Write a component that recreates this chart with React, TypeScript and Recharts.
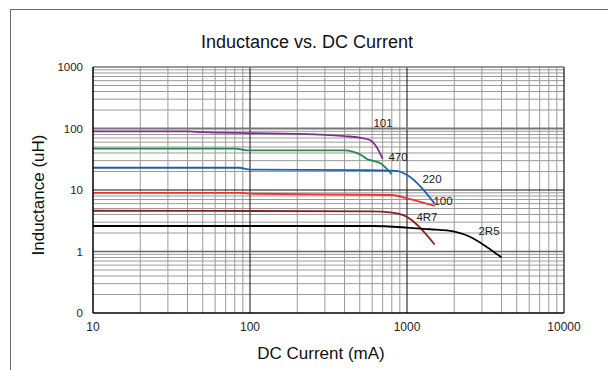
import { LineChart, Line, XAxis, YAxis, ReferenceLine, ReferenceDot } from 'recharts';

// DC current (mA) vs inductance (uH)
const s101 = [
  { x: 10, y: 90 }, { x: 40, y: 90 }, { x: 50, y: 87 }, { x: 100, y: 84 }, { x: 200, y: 82 },
  { x: 300, y: 79 }, { x: 400, y: 75 }, { x: 500, y: 71 }, { x: 580, y: 65 }, { x: 640, y: 50 }, { x: 700, y: 32 },
];
const s470 = [
  { x: 10, y: 47 }, { x: 80, y: 47 }, { x: 100, y: 44 }, { x: 400, y: 44 }, { x: 450, y: 42 },
  { x: 520, y: 36 }, { x: 555, y: 32 }, { x: 600, y: 30 }, { x: 680, y: 27 }, { x: 800, y: 18 },
];
const s220 = [
  { x: 10, y: 23 }, { x: 85, y: 23 }, { x: 100, y: 21.5 }, { x: 500, y: 21 }, { x: 850, y: 20.5 },
  { x: 1000, y: 17.5 }, { x: 1500, y: 6 },
];
const s100 = [
  { x: 10, y: 9 }, { x: 90, y: 9 }, { x: 100, y: 8.7 }, { x: 800, y: 8.3 }, { x: 1000, y: 7.3 }, { x: 1500, y: 5.5 },
];
const s4R7 = [
  { x: 10, y: 4.6 }, { x: 600, y: 4.5 }, { x: 800, y: 4.3 }, { x: 970, y: 3.8 }, { x: 1500, y: 1.3 },
];
const s2R5 = [
  { x: 10, y: 2.6 }, { x: 600, y: 2.6 }, { x: 1000, y: 2.45 }, { x: 1400, y: 2.3 }, { x: 1800, y: 2.2 },
  { x: 2500, y: 1.75 }, { x: 3200, y: 1.2 }, { x: 4000, y: 0.8 },
];

const seriesLabels = [
  { name: '101', x: 703, y: 124 },
  { name: '470', x: 877, y: 34.7 },
  { name: '220', x: 1443, y: 15.1 },
  { name: '100', x: 1695, y: 6.7 },
  { name: '4R7', x: 1340, y: 3.7 },
  { name: '2R5', x: 3330, y: 2.15 },
];

const xTicks = [10, 100, 1000, 10000];
const yTicks = [0.1, 1, 10, 100, 1000];
const xMinor = [20, 30, 40, 50, 60, 70, 80, 90, 200, 300, 400, 500, 600, 700, 800, 900, 2000, 3000, 4000, 5000, 6000, 7000, 8000, 9000];
const yMinor = [0.2, 0.3, 0.4, 0.5, 0.6, 0.7, 0.8, 0.9, 2, 3, 4, 5, 6, 7, 8, 9, 20, 30, 40, 50, 60, 70, 80, 90, 200, 300, 400, 500, 600, 700, 800, 900];

const series = [
  { key: '101', data: s101, color: '#7f2f8f' },
  { key: '470', data: s470, color: '#27894a' },
  { key: '220', data: s220, color: '#2160ad' },
  { key: '100', data: s100, color: '#f03232' },
  { key: '4R7', data: s4R7, color: '#8a2222' },
  { key: '2R5', data: s2R5, color: '#000000' },
];

const font = '"Liberation Sans", Arial, sans-serif';

export default function App() {
  return (
    <div style={{ position: 'absolute', left: 8, top: 8, width: 600, height: 362, fontFamily: font }}>
      <div style={{ position: 'absolute', left: 2, top: 1, width: 598, height: 361, borderTop: '1px solid #6a6a6a', borderLeft: '1px solid #6a6a6a' }} />
      <LineChart width={600} height={362} margin={{ top: 59, right: 44, bottom: 27, left: 0 }} style={{ position: 'absolute', left: 0, top: 0 }}>
        {xMinor.map((v) => (
          <ReferenceLine key={`vx${v}`} x={v} stroke="#9a9a9a" strokeWidth={1} />
        ))}
        {yMinor.map((v) => (
          <ReferenceLine key={`hy${v}`} y={v} stroke="#9a9a9a" strokeWidth={1} />
        ))}
        <ReferenceLine x={100} stroke="#111" strokeWidth={1} />
        <ReferenceLine x={1000} stroke="#111" strokeWidth={1} />
        <ReferenceLine x={10000} stroke="#222" strokeWidth={1.3} />
        <ReferenceLine y={1} stroke="#666" strokeWidth={1.5} />
        <ReferenceLine y={10} stroke="#111" strokeWidth={1.2} />
        <ReferenceLine y={100} stroke="#777" strokeWidth={1.8} />
        <ReferenceLine y={1000} stroke="#777" strokeWidth={1.3} />
        <XAxis
          type="number"
          dataKey="x"
          scale="log"
          domain={[10, 10000]}
          ticks={xTicks}
          allowDataOverflow
          height={30}
          tickLine={false}
          tickSize={6}
          tickMargin={3}
          axisLine={{ stroke: '#000', strokeWidth: 1.5 }}
          tick={{ fill: '#222', fontSize: 12 }}
        />
        <YAxis
          type="number"
          dataKey="y"
          scale="log"
          domain={[0.1, 1000]}
          ticks={yTicks}
          allowDataOverflow
          width={85}
          tickLine={false}
          tickSize={6}
          tickMargin={4}
          axisLine={{ stroke: '#000', strokeWidth: 1.5 }}
          tick={{ fill: '#222', fontSize: 11.5 }}
          tickFormatter={(v: number) => (v === 0.1 ? '0' : String(v))}
        />
        {series.map((s) => (
          <Line
            key={s.key}
            data={s.data}
            dataKey="y"
            type="monotone"
            stroke={s.color}
            strokeWidth={1.8}
            dot={false}
            isAnimationActive={false}
          />
        ))}
        {seriesLabels.map((l) => (
          <ReferenceDot
            key={l.name}
            x={l.x}
            y={l.y}
            r={0}
            fill="none"
            stroke="none"
            label={{ value: l.name, position: 'center', fill: '#222', fontSize: 11.5 }}
          />
        ))}
        <text x={299} y={40} textAnchor="middle" fontSize={18} fill="#111">
          Inductance vs. DC Current
        </text>
        <text x={313} y={351} textAnchor="middle" fontSize={17} fill="#111">
          DC Current (mA)
        </text>
        <text x={36} y={187} textAnchor="middle" fontSize={17} fill="#111" transform="rotate(-90, 36, 187)">
          Inductance (uH)
        </text>
      </LineChart>
    </div>
  );
}
